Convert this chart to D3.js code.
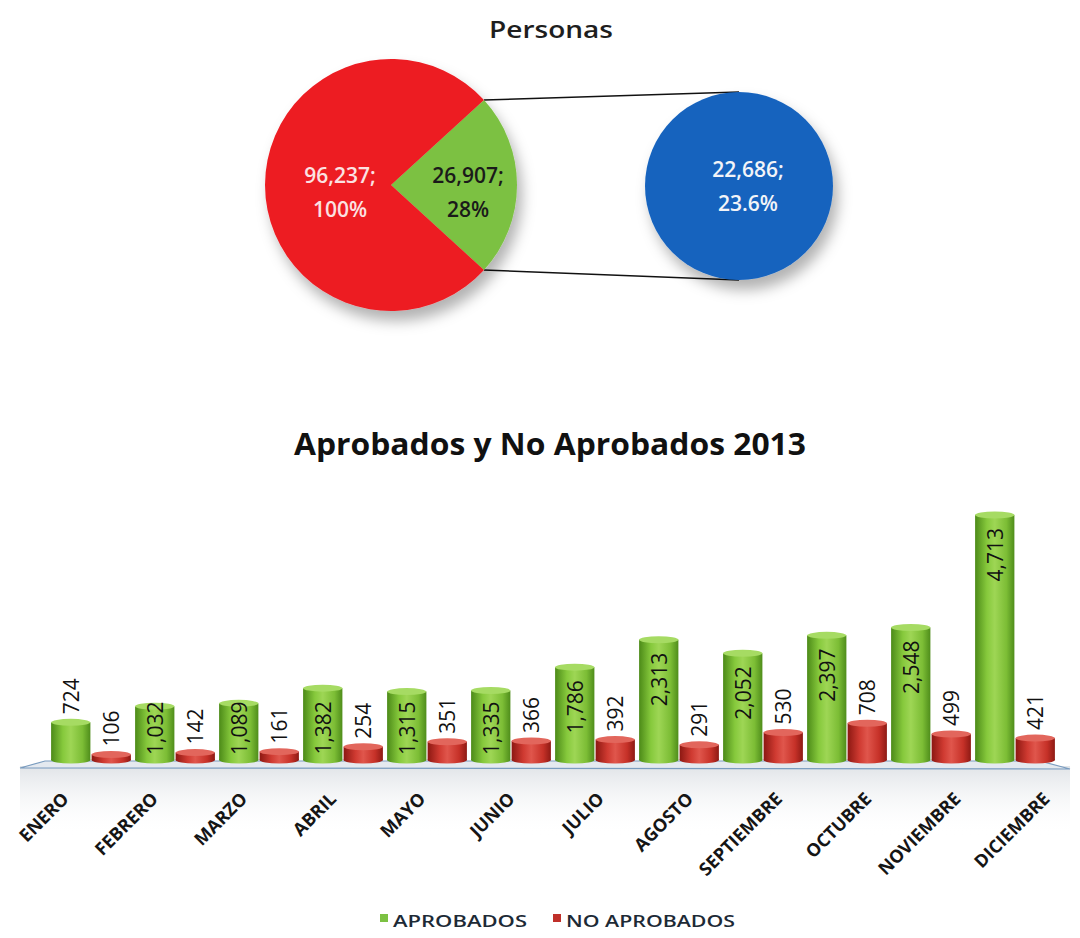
<!DOCTYPE html>
<html>
<head>
<meta charset="utf-8">
<script src="https://cdn.jsdelivr.net/npm/d3@7"></script>
<style>
  body { margin: 0; background: #fff; }
  text { font-family: "Open Sans", "DejaVu Sans", sans-serif; }
</style>
</head>
<body>
<script>
// ---- pie of pie data
var pieTitle = "Personas"
var pieTotal = 96237
var pieTotalPct = "100%"
var pieSplit = 26907
var pieSplitPct = "28%"
var pieDetail = 22686
var pieDetailPct = "23.6%"

// ---- bar chart data
var barTitle = "Aprobados y No Aprobados 2013"
var months = ["ENERO", "FEBRERO", "MARZO", "ABRIL", "MAYO", "JUNIO", "JULIO",
    "AGOSTO", "SEPTIEMBRE", "OCTUBRE", "NOVIEMBRE", "DICIEMBRE"]
var aprobados = [724, 1032, 1089, 1382, 1315, 1335, 1786, 2313, 2052, 2397, 2548, 4713]
var noAprobados = [106, 142, 161, 254, 351, 366, 392, 291, 530, 708, 499, 421]
var seriesNames = ["APROBADOS", "NO APROBADOS"]

var fmt = d3.format(",")

var svg = d3.select("body").append("svg")
    .attr("width", 1080)
    .attr("height", 938)

var defs = svg.append("defs")

var shadow = defs.append("filter").attr("id", "shadow")
    .attr("x", "-30%").attr("y", "-30%").attr("width", "170%").attr("height", "170%")
shadow.append("feDropShadow")
    .attr("dx", 5).attr("dy", 10).attr("stdDeviation", 7)
    .attr("flood-color", "#000").attr("flood-opacity", 0.3)

function cylGradient(id, stops) {
    var gr = defs.append("linearGradient").attr("id", id)
        .attr("x1", "0%").attr("x2", "100%").attr("y1", "0%").attr("y2", "0%")
    stops.forEach(function (s) {
        gr.append("stop").attr("offset", s[0]).attr("stop-color", s[1])
    })
}
cylGradient("gGreen", [["0%", "#4c8a18"], ["30%", "#86c93c"], ["50%", "#9ed655"], ["80%", "#7cbd35"], ["100%", "#4f8d1b"]])
cylGradient("gRed", [["0%", "#8c1812"], ["30%", "#cf3a31"], ["50%", "#e0564c"], ["80%", "#c63128"], ["100%", "#8e1a14"]])

var floorGrad = defs.append("linearGradient").attr("id", "floorHaze")
    .attr("x1", "0%").attr("x2", "0%").attr("y1", "0%").attr("y2", "100%")
floorGrad.append("stop").attr("offset", "0%").attr("stop-color", "#d9dde2").attr("stop-opacity", 0.8)
floorGrad.append("stop").attr("offset", "100%").attr("stop-color", "#ffffff").attr("stop-opacity", 0)

// ================= PIE OF PIE =================
var pieCx = 391, pieCy = 185, pieR = 126
var detCx = 739, detCy = 186, detR = 94

svg.append("text")
    .attr("x", 551).attr("y", 38)
    .attr("text-anchor", "middle")
    .attr("font-size", 24).attr("font-weight", 600)
    .attr("fill", "#1e1e1e")
    .attr("textLength", 124).attr("lengthAdjust", "spacingAndGlyphs")
    .text(pieTitle)

// wedge drawn from the detail value (as in the original split)
var frac = pieDetail / pieTotal
var a0 = Math.PI / 2 - frac * Math.PI
var pie = d3.pie().sort(null).value(function (d) { return d.v })
    .startAngle(a0).endAngle(a0 + 2 * Math.PI)
var slices = pie([
    { k: "split", v: pieDetail, color: "#7cc142" },
    { k: "rest", v: pieTotal - pieDetail, color: "#ed1c24" }
])
var arc = d3.arc().innerRadius(0).outerRadius(pieR)

// connector lines
var a1 = a0 + frac * 2 * Math.PI
svg.append("line")
    .attr("x1", pieCx + pieR * Math.sin(a0)).attr("y1", pieCy - pieR * Math.cos(a0))
    .attr("x2", detCx).attr("y2", detCy - detR)
    .attr("stroke", "#111").attr("stroke-width", 1.5)
svg.append("line")
    .attr("x1", pieCx + pieR * Math.sin(a1)).attr("y1", pieCy - pieR * Math.cos(a1))
    .attr("x2", detCx).attr("y2", detCy + detR)
    .attr("stroke", "#111").attr("stroke-width", 1.5)

var pg = svg.append("g")
    .attr("transform", "translate(" + pieCx + "," + pieCy + ")")
    .attr("filter", "url(#shadow)")
pg.selectAll("path").data(slices).enter().append("path")
    .attr("d", arc)
    .attr("fill", function (d) { return d.data.color })

svg.append("circle")
    .attr("cx", detCx).attr("cy", detCy).attr("r", detR)
    .attr("fill", "#1663be")
    .attr("filter", "url(#shadow)")

function twoLine(x, y, l1, l2, color) {
    var t = svg.append("text")
        .attr("text-anchor", "middle")
        .attr("font-size", 21).attr("font-weight", 600)
        .attr("fill", color)
    t.append("tspan").attr("x", x).attr("y", y).text(l1)
    t.append("tspan").attr("x", x).attr("y", y + 34).text(l2)
}
twoLine(pieCx - 51, 183, fmt(pieTotal) + ";", pieTotalPct, "#fbe2e2")
twoLine(pieCx + 77, 183, fmt(pieSplit) + ";", pieSplitPct, "#1a1a1a")
twoLine(detCx + 9, 177, fmt(pieDetail) + ";", pieDetailPct, "#f2f4f8")

// ================= BAR CHART =================
svg.append("text")
    .attr("x", 550).attr("y", 455)
    .attr("text-anchor", "middle")
    .attr("font-size", 30).attr("font-weight", 700)
    .attr("fill", "#111")
    .attr("textLength", 512).attr("lengthAdjust", "spacingAndGlyphs")
    .text(barTitle)

var x = d3.scaleBand().domain(months).range([49, 1057])
    .paddingInner(0.05).paddingOuter(0.025)
var xs = d3.scaleBand().domain(seriesNames).range([0, x.bandwidth()]).paddingInner(0.03)
var y = d3.scaleLinear().domain([0, 5000]).range([760, 500])
var base = y(0)

// floor
svg.append("rect")
    .attr("x", 20).attr("y", base + 6).attr("width", 1050).attr("height", 70)
    .attr("fill", "url(#floorHaze)")
svg.append("path")
    .attr("d", "M" + (x.range()[0] - 29) + "," + (base + 8) +
        "L" + (x.range()[0] - 4) + "," + (base + 1) +
        "L" + (x.range()[1] - 17) + "," + (base + 1) +
        "L" + (x.range()[1] + 13) + "," + (base + 9) + "Z")
    .attr("fill", "#e4e9ef")
    .attr("stroke", "#7a9cbf").attr("stroke-width", 1.2)

var rows = months.map(function (m, i) {
    return [
        { m: m, s: seriesNames[0], v: aprobados[i], fill: "url(#gGreen)", top: "#a6db63" },
        { m: m, s: seriesNames[1], v: noAprobados[i], fill: "url(#gRed)", top: "#e2665c" }
    ]
})
var bars = [].concat.apply([], rows)

var bw = xs.bandwidth()
var bg = svg.append("g")
bars.forEach(function (d) {
    var bx = x(d.m) + xs(d.s)
    var top = y(d.v)
    var g = bg.append("g")
    g.append("ellipse")
        .attr("cx", bx + bw / 2).attr("cy", base).attr("rx", bw / 2).attr("ry", 3.5)
        .attr("fill", d.fill)
    g.append("rect")
        .attr("x", bx).attr("y", top).attr("width", bw).attr("height", base - top)
        .attr("fill", d.fill)
    g.append("ellipse")
        .attr("cx", bx + bw / 2).attr("cy", top).attr("rx", bw / 2).attr("ry", 3.5)
        .attr("fill", d.top)
})

// value labels, rotated
var lg = svg.append("g")
bars.forEach(function (d) {
    var cx = x(d.m) + xs(d.s) + bw / 2
    var top = y(d.v)
    var t = lg.append("text")
        .attr("font-size", 21)
        .attr("fill", "#111")
        .attr("dominant-baseline", "central")
        .text(fmt(d.v))
    var len = t.node().getComputedTextLength()
    var bottom
    if (d.v < 1000) {
        bottom = top - 8
    } else {
        bottom = Math.min(top + 13, base - 5 - len) + len
    }
    t.attr("x", cx).attr("y", bottom)
        .attr("transform", "rotate(-90," + cx + "," + bottom + ")")
})

// month labels (perspective spread slightly wider than the bars)
var lx = d3.scalePoint().domain(months).range([70, 1051])
svg.append("g").selectAll("text").data(months).enter().append("text")
    .attr("text-anchor", "end")
    .attr("font-size", 18).attr("font-weight", 700)
    .attr("fill", "#151515")
    .attr("transform", function (m) { return "translate(" + lx(m) + ",800) rotate(-45)" })
    .text(function (m) { return m })

// legend
var legend = svg.append("g")
var legItems = [
    { name: seriesNames[0], color: "#7cc142", x: 380, w: 134 },
    { name: seriesNames[1], color: "#c0302a", x: 553, w: 169 }
]
legItems.forEach(function (d) {
    legend.append("rect")
        .attr("x", d.x).attr("y", 914).attr("width", 8).attr("height", 8)
        .attr("fill", d.color)
    legend.append("text")
        .attr("x", d.x + 13).attr("y", 927)
        .attr("font-size", 17).attr("font-weight", 600)
        .attr("fill", "#1d2a36")
        .attr("textLength", d.w).attr("lengthAdjust", "spacingAndGlyphs")
        .text(d.name)
})
</script>
</body>
</html>
